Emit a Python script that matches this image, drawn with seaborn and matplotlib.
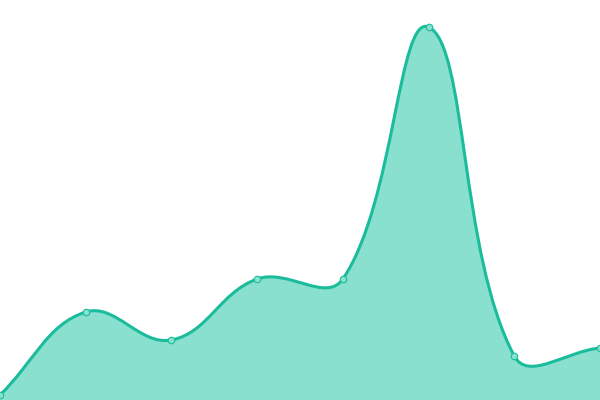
import numpy as np
import seaborn as sns
import matplotlib
matplotlib.use("Agg")
import matplotlib.pyplot as plt
from matplotlib.path import Path
from matplotlib.patches import PathPatch

# Data (pixel height above the bottom edge)
steps = [0, 1, 2, 3, 4, 5, 6, 7]
values = [5, 88, 60, 121, 121, 373, 44, 52]

line_color = "#1abc9c"
fill_color = "#8ae0cf"
marker_face = "#8ae0cf"

sns.set_style("white")

fig = plt.figure(figsize=(6, 4), dpi=100)
ax = fig.add_axes([0, 0, 1, 1])
ax.set_xlim(0, 7)
ax.set_ylim(0, 400)
ax.axis("off")


# Chart.js style bezier smoothing (tension 0.4), distances in pixel space
def bezier_controls(xs, ys, tension=0.4, sx=600 / 7, sy=1.0):
    n = len(xs)
    ctrl = []
    for i in range(n):
        px, py = (xs[i - 1], ys[i - 1]) if i > 0 else (xs[i], ys[i])
        cx, cy = xs[i], ys[i]
        nx, ny = (xs[i + 1], ys[i + 1]) if i < n - 1 else (xs[i], ys[i])
        d01 = np.hypot((cx - px) * sx, (cy - py) * sy)
        d12 = np.hypot((nx - cx) * sx, (ny - cy) * sy)
        tot = d01 + d12
        s01 = d01 / tot if tot else 0
        s12 = d12 / tot if tot else 0
        fa, fb = tension * s01, tension * s12
        before = (cx - fa * (nx - px), cy - fa * (ny - py))
        after = (cx + fb * (nx - px), cy + fb * (ny - py))
        ctrl.append((before, after))
    return ctrl


ctrl = bezier_controls(steps, values)
verts = [(steps[0], values[0])]
codes = [Path.MOVETO]
for i in range(1, len(steps)):
    verts += [ctrl[i - 1][1], ctrl[i][0], (steps[i], values[i])]
    codes += [Path.CURVE4] * 3

line_path = Path(verts, codes)
fill_verts = verts + [(steps[-1], -10), (steps[0], -10), (steps[0], values[0])]
fill_codes = codes + [Path.LINETO, Path.LINETO, Path.CLOSEPOLY]

ax.add_patch(PathPatch(Path(fill_verts, fill_codes), facecolor=fill_color,
                       edgecolor="none", zorder=1))
ax.add_patch(PathPatch(line_path, facecolor="none", edgecolor=line_color,
                       linewidth=2.2, zorder=2))

sns.scatterplot(x=steps, y=values, ax=ax, s=22, color=marker_face,
                edgecolor=line_color, linewidth=0.8, zorder=3, legend=False)
ax.set_xlim(0, 7)
ax.set_ylim(0, 400)
ax.axis("off")

fig.savefig("out.png", dpi=100)
